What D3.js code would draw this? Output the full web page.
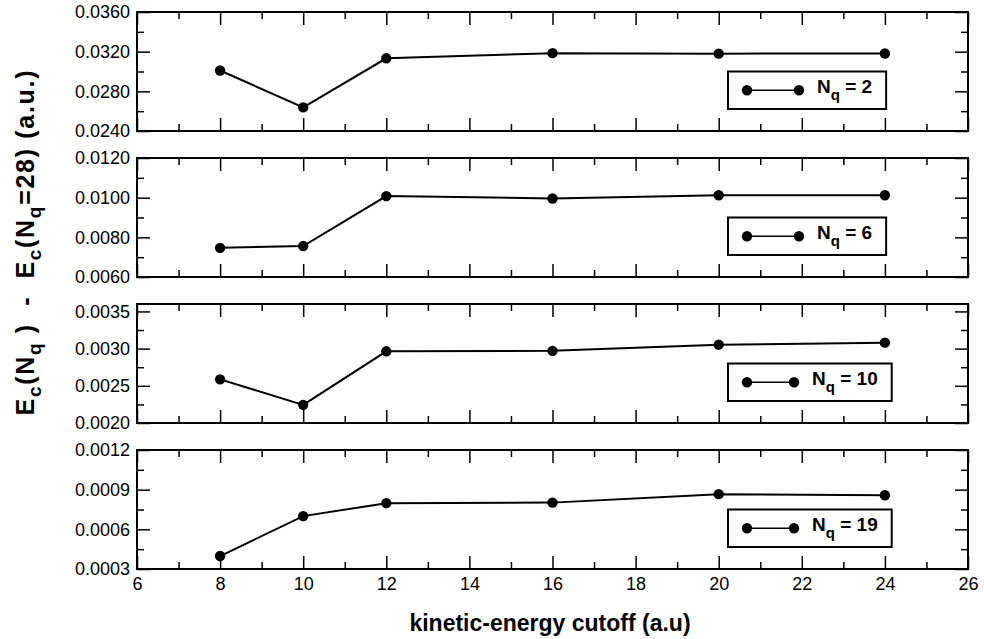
<!DOCTYPE html>
<html>
<head>
<meta charset="utf-8">
<script src="https://cdn.jsdelivr.net/npm/d3@7/dist/d3.min.js"></script>
<style>
  html, body { margin: 0; padding: 0; background: #fff; }
  svg { display: block; font-family: "Liberation Sans", Arial, Helvetica, sans-serif; }
</style>
</head>
<body>
<svg id="chart" width="984" height="639"></svg>
<script>
// Kinetic-energy cutoffs (a.u.)
const cutoffs = [8, 10, 12, 16, 20, 24];

// E_c(N_q) - E_c(N_q=28) for each number of q-points (a.u.)
const nq2  = [0.03010, 0.02638, 0.03133, 0.03185, 0.03180, 0.03182];
const nq6  = [0.00747, 0.00756, 0.01008, 0.00996, 0.01012, 0.01012];
const nq10 = [0.002587, 0.002244, 0.002964, 0.002970, 0.003053, 0.003080];
const nq19 = [0.000398, 0.000700, 0.000798, 0.000802, 0.000866, 0.000858];

const seriesNq = ["2", "6", "10", "19"];

// Axis ranges and ticks
const xDomain = [6, 26];
const xMajor = [6, 8, 10, 12, 14, 16, 18, 20, 22, 24, 26];
const xMinor = [7, 9, 11, 13, 15, 17, 19, 21, 23, 25];

const yDomains = [[0.024, 0.036], [0.006, 0.012], [0.0020, 0.0036], [0.0003, 0.0012]];
const yMajor = [
  [0.024, 0.028, 0.032, 0.036],
  [0.006, 0.008, 0.010, 0.012],
  [0.0020, 0.0025, 0.0030, 0.0035],
  [0.0003, 0.0006, 0.0009, 0.0012]
];
const yMinor = [
  [0.026, 0.030, 0.034],
  [0.007, 0.009, 0.011],
  [0.00225, 0.00275, 0.00325],
  [0.00045, 0.00075, 0.00105]
];

const series = [nq2, nq6, nq10, nq19];

const svg = d3.select("#chart");

const left = 137, right = 968;
const panelTop0 = 12, panelStep = 146, panelH = 119;
const majorLen = 13, minorLen = 7;

const x = d3.scaleLinear().domain(xDomain).range([left, right]);

const line = d3.line();

series.forEach((vals, i) => {
  const top = panelTop0 + i * panelStep;
  const bottom = top + panelH;
  const y = d3.scaleLinear().domain(yDomains[i]).range([bottom, top]);
  const g = svg.append("g");
  const isLast = i === series.length - 1;

  // Left axis: labels and inward ticks
  g.append("g").attr("transform", `translate(${left},0)`)
    .call(d3.axisLeft(y).tickValues(yMajor[i]).tickSize(-majorLen).tickPadding(7)
      .tickFormat(d3.format(".4f")));
  g.append("g").attr("transform", `translate(${left},0)`)
    .call(d3.axisLeft(y).tickValues(yMinor[i]).tickSize(-minorLen).tickFormat(""));
  // Right axis: inward ticks only
  g.append("g").attr("transform", `translate(${right},0)`)
    .call(d3.axisRight(y).tickValues(yMajor[i]).tickSize(-majorLen).tickFormat(""));
  g.append("g").attr("transform", `translate(${right},0)`)
    .call(d3.axisRight(y).tickValues(yMinor[i]).tickSize(-minorLen).tickFormat(""));
  // Top axis
  g.append("g").attr("transform", `translate(0,${top})`)
    .call(d3.axisTop(x).tickValues(xMajor).tickSize(-majorLen).tickFormat(""));
  g.append("g").attr("transform", `translate(0,${top})`)
    .call(d3.axisTop(x).tickValues(xMinor).tickSize(-minorLen).tickFormat(""));
  // Bottom axis, labelled only on the last panel
  g.append("g").attr("transform", `translate(0,${bottom})`)
    .call(d3.axisBottom(x).tickValues(xMajor).tickSize(-majorLen).tickPadding(8)
      .tickFormat(isLast ? d3.format("d") : ""));
  g.append("g").attr("transform", `translate(0,${bottom})`)
    .call(d3.axisBottom(x).tickValues(xMinor).tickSize(-minorLen).tickFormat(""));

  g.selectAll(".domain").remove();
  g.selectAll(".tick line").attr("stroke", "#000").attr("stroke-width", 1.5);
  g.selectAll(".tick text").attr("fill", "#000").attr("font-size", 18)
    .attr("font-family", "'Liberation Sans', Arial, sans-serif");

  // Frame
  g.append("rect")
    .attr("x", left).attr("y", top)
    .attr("width", right - left).attr("height", panelH)
    .attr("fill", "none").attr("stroke", "#000").attr("stroke-width", 2);

  // Data line and markers
  const pts = cutoffs.map((c, k) => [x(c), y(vals[k])]);
  g.append("path")
    .attr("d", line(pts))
    .attr("fill", "none").attr("stroke", "#000").attr("stroke-width", 2);
  g.selectAll("circle.pt").data(pts).enter().append("circle")
    .attr("class", "pt")
    .attr("cx", d => d[0]).attr("cy", d => d[1]).attr("r", 5.2)
    .attr("fill", "#000");

  // Legend box
  const boxH = 37.5, boxX = 728;
  const boxY = bottom - 22 - boxH;
  const cy = boxY + boxH / 2;
  const twoDigit = seriesNq[i].length > 1;
  const m1 = 747, m2 = twoDigit ? 794 : 799;
  const tx = twoDigit ? 812 : 817;
  const lg = svg.append("g");
  const box = lg.append("rect")
    .attr("x", boxX).attr("y", boxY).attr("height", boxH)
    .attr("fill", "#fff").attr("stroke", "#000").attr("stroke-width", 2);
  lg.append("line").attr("x1", m1).attr("x2", m2).attr("y1", cy).attr("y2", cy)
    .attr("stroke", "#000").attr("stroke-width", 1.5);
  lg.selectAll("circle").data([m1, m2]).enter().append("circle")
    .attr("cx", d => d).attr("cy", cy).attr("r", 5.2).attr("fill", "#000");
  const t = lg.append("text")
    .attr("x", tx).attr("y", cy + 2.5)
    .attr("font-size", 19).attr("font-weight", "bold").attr("fill", "#000")
    .style("white-space", "pre");
  t.append("tspan").text("N");
  t.append("tspan").attr("dy", 7).attr("font-size", 15).text("q");
  t.append("tspan").attr("dy", -7).text(" = " + seriesNq[i]);
  const tw = t.node().getComputedTextLength();
  box.attr("width", tx + tw + 14 - boxX);
});

// X axis title
svg.append("text")
  .attr("x", 550).attr("y", 631)
  .attr("text-anchor", "middle")
  .attr("font-size", 23).attr("font-weight", "bold").attr("fill", "#000")
  .text("kinetic-energy cutoff (a.u)");

// Y axis title
const yt = svg.append("text")
  .attr("transform", "translate(34,243) rotate(-90)")
  .attr("text-anchor", "middle")
  .attr("font-size", 25).attr("font-weight", "bold").attr("fill", "#000")
  .attr("textLength", 345).attr("lengthAdjust", "spacing")
  .style("white-space", "pre");
yt.append("tspan").text("E");
yt.append("tspan").attr("dy", 7).attr("font-size", 19).text("c");
yt.append("tspan").attr("dy", -7).text("(N");
yt.append("tspan").attr("dy", 7).attr("font-size", 19).text("q");
yt.append("tspan").attr("dy", -7).text(" )  -  E");
yt.append("tspan").attr("dy", 7).attr("font-size", 19).text("c");
yt.append("tspan").attr("dy", -7).text("(N");
yt.append("tspan").attr("dy", 7).attr("font-size", 19).text("q");
yt.append("tspan").attr("dy", -7).text("=28) (a.u.)");
</script>
</body>
</html>
